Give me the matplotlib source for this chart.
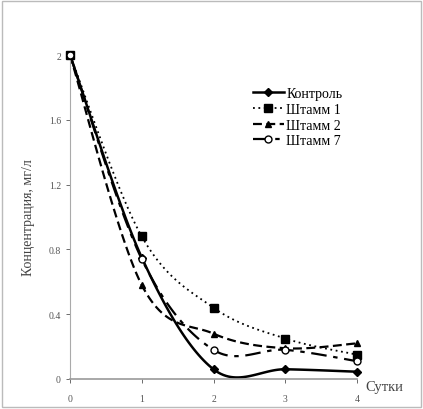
import numpy as np
import matplotlib
matplotlib.use("Agg")
import matplotlib.pyplot as plt
from matplotlib.patches import Rectangle

# данные (сутки / концентрация, мг/л)
days = [0, 1, 2, 3, 4]
control = [2.0, 0.75, 0.06, 0.06, 0.045]
strain1 = [2.0, 0.88, 0.44, 0.25, 0.15]
strain2 = [2.0, 0.58, 0.28, 0.19, 0.22]
strain7 = [2.0, 0.74, 0.18, 0.18, 0.11]
y_ticks = [0, 0.4, 0.8, 1.2, 1.6, 2]
y_tick_labels = ["0", "0.4", "0.8", "1.2", "1.6", "2"]


def smooth(x, y, n=30):
    """Сглаживание линии как в Excel (кривые Безье через точки)."""
    x = np.asarray(x, float)
    y = np.asarray(y, float)
    px = np.concatenate([[x[0]], x, [x[-1]]])
    py = np.concatenate([[y[0]], y, [y[-1]]])
    xs, ys = [], []
    t = np.linspace(0, 1, n)
    for i in range(1, len(px) - 2):
        p0 = np.array([px[i], py[i]])
        p3 = np.array([px[i + 1], py[i + 1]])
        p1 = p0 + (np.array([px[i + 1], py[i + 1]]) - np.array([px[i - 1], py[i - 1]])) / 6
        p2 = p3 - (np.array([px[i + 2], py[i + 2]]) - np.array([px[i], py[i]])) / 6
        b = ((1 - t) ** 3)[:, None] * p0 + (3 * (1 - t) ** 2 * t)[:, None] * p1 \
            + (3 * (1 - t) * t ** 2)[:, None] * p2 + (t ** 3)[:, None] * p3
        xs.extend(b[:, 0])
        ys.extend(b[:, 1])
    return xs, ys


plt.rcParams["font.family"] = ["Liberation Serif", "DejaVu Serif"]

fig = plt.figure(figsize=(4.23, 4.10), dpi=100)
ax = fig.add_axes([70 / 423, 1 - 380 / 410, 287 / 423, 324 / 410])

series = [
    ("Контроль", control, dict(ls="-", lw=1.8), dict(marker="D", ms=3.8, mfc="black")),
    ("Штамм 1", strain1, dict(ls=(0, (1, 2)), lw=1.3), dict(marker="s", ms=6, mfc="black")),
    ("Штамм 2", strain2, dict(ls=(0, (4, 2)), lw=1.6), dict(marker="^", ms=5, mfc="black")),
    ("Штамм 7", strain7, dict(ls=(0, (7, 3, 2, 3)), lw=1.6), dict(marker="o", ms=5, mfc="white")),
]

for name, vals, lstyle, mstyle in series:
    sx, sy = smooth(days, vals)
    ax.plot(sx, sy, color="black", clip_on=False, **lstyle)
    ax.plot(days, vals, ls="none", color="black", mec="black", clip_on=False, zorder=3, **mstyle)
    # для легенды
    ax.plot([], [], color="black", mec="black", label=name, **lstyle, **mstyle)

ax.set_xlim(0, 4)
ax.set_ylim(0, 2)
ax.set_xticks(days)
ax.set_yticks(y_ticks)
ax.set_yticklabels(y_tick_labels)
ax.tick_params(labelsize=7, colors="#555555", length=3, direction="out", width=0.6)
ax.tick_params(axis="x", pad=8)

for side in ["top", "right"]:
    ax.spines[side].set_visible(False)
ax.spines["left"].set_color("#aaaaaa")
ax.spines["bottom"].set_color("#999999")
ax.spines["bottom"].set_linewidth(1.2)

ax.set_ylabel("Концентрация, мг/л", fontsize=10, color="#444444", labelpad=10)
fig.text(384 / 423, 1 - 388 / 410, "Сутки", fontsize=10.5, color="#444444",
         ha="center", va="center")

ax.legend(loc="upper left", bbox_to_anchor=(176 / 287, 1 - 25 / 324), frameon=False,
          fontsize=10, handlelength=2.2, handletextpad=0.2, labelspacing=0.2,
          borderpad=0)

fig.patches.append(Rectangle((0.004, 0.004), 0.992, 0.992, transform=fig.transFigure,
                             fill=False, edgecolor="#bbbbbb", lw=1))

fig.savefig("out.png", dpi=100)
